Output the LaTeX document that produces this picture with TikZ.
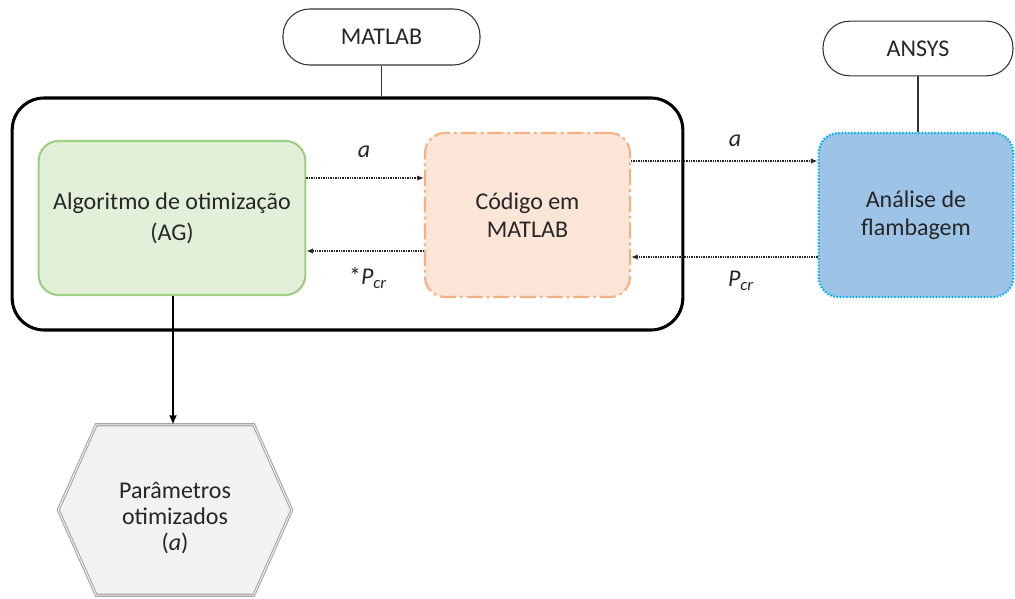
\documentclass[tikz,border=0pt]{standalone}
\usepackage{fontspec}
\setmainfont{Carlito}
\usetikzlibrary{arrows.meta,calc,backgrounds}
\definecolor{gfill}{RGB}{226,240,217}
\definecolor{gline}{RGB}{160,206,132}
\definecolor{ofill}{RGB}{251,229,214}
\definecolor{oline}{RGB}{244,177,131}
\definecolor{bfill}{RGB}{157,195,230}
\definecolor{bline}{RGB}{0,176,240}
\definecolor{hfill}{RGB}{242,242,242}
\definecolor{hline}{RGB}{166,166,166}
\definecolor{txt}{RGB}{38,38,38}
\tikzset{
  every node/.style={font=\fontsize{18}{22}\selectfont, text=txt},
  term/.style={draw=black!80, line width=0.8pt, rounded corners=20pt, fill=white},
  procbox/.style={align=center, rounded corners=15pt, line width=1.6pt},
  dotarrow/.style={-{Latex[length=5pt,width=4pt]}, line width=0.9pt, dash pattern=on 1pt off 0.8pt, black!85},
  lbl/.style={font=\fontsize{18}{20}\selectfont\itshape}
}
\begin{document}
\begin{tikzpicture}[x=0.75pt,y=-0.75pt]
\useasboundingbox (0,0) rectangle (1015,599);
% big MATLAB container
\node[draw=black, line width=2.3pt, rounded corners=24pt, minimum width=503pt, minimum height=174pt] (big) at (347.5,214) {};
% terminals
\node[term, minimum width=147.75pt, minimum height=42pt] (matlab) at (381.5,37) {MATLAB};
\node[term, minimum width=142.5pt, minimum height=41pt] (ansys) at (918,48.5) {ANSYS};
% process boxes
\node[procbox, draw=gline, fill=gfill, minimum width=200pt, minimum height=115.5pt, font=\fontsize{18}{23}\selectfont] (green) at (172,218) {Algoritmo de otimização\\(AG)};
\node[procbox, draw=oline, fill=ofill, dash pattern=on 12pt off 3pt on 2pt off 3pt, minimum width=153.75pt, minimum height=123pt, font=\fontsize{18}{21}\selectfont] (orange) at (527.5,215) {Código em\\MATLAB};
\node[procbox, draw=bline, fill=bfill, dash pattern=on 1.2pt off 1.2pt, minimum width=146pt, minimum height=123pt, font=\fontsize{18}{21}\selectfont] (blue) at (916,215) {Análise de\\flambagem};
% hexagon
\node[align=center, minimum width=117.75pt, minimum height=127.5pt, font=\fontsize{18}{19.5}\selectfont] (hex) at (175,518) {Parâmetros\\otimizados\\(\textit{a})};
\begin{scope}[on background layer]
\draw[draw=hline, double=hfill, double distance=0.7pt, line width=0.8pt, fill=hfill]
  ($(hex.north west)+(0,-8)$) -- ($(hex.north east)+(0,-8)$) -- ($(hex.east)+(38,-8)$) -- ($(hex.south east)+(0,-8)$)
  -- ($(hex.south west)+(0,-8)$) -- ($(hex.west)+(-38,-8)$) -- cycle;
\end{scope}
% connectors
\draw[line width=0.8pt, black!80] (matlab.south) -- (matlab.south |- big.north);
\draw[line width=0.8pt, black!80] (ansys.south) -- (ansys.south |- blue.north);
\draw[-{Latex[length=7pt,width=6pt]}, line width=1.6pt] (green.south -| 173,0) -- ($(hex.north -| 173,0)+(0,-8)$);
\draw[dotarrow] (green.east |- 0,178) -- (orange.west |- 0,178);
\draw[dotarrow] (orange.west |- 0,251) -- (green.east |- 0,251);
\draw[dotarrow] (orange.east |- 0,161) -- (blue.west |- 0,161);
\draw[dotarrow] (blue.west |- 0,257) -- (orange.east |- 0,257);
% labels
\node[lbl] (la1) at (364,152) {a};
\node[lbl] (lp1) at (368,278) {\upshape*\itshape P\textsubscript{cr}};
\node[lbl] (la2) at (735,141) {a};
\node[lbl] (lp2) at (741,281) {P\textsubscript{cr}};
\end{tikzpicture}
\end{document}
